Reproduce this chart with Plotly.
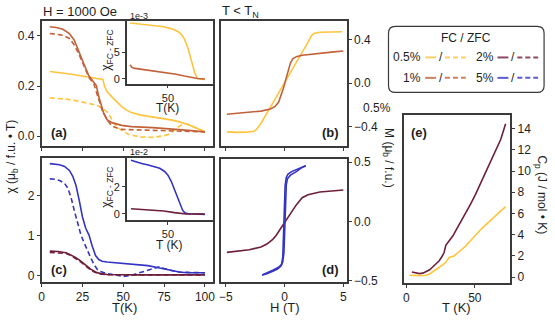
import plotly.graph_objects as go

# ---- colours ---------------------------------------------------------------
C05 = "#FFC43D"   # 0.5 %
C1 = "#C1613A"    # 1 %
C2 = "#6D1F3C"    # 2 %
C5 = "#3434C4"    # 5 %
FRAME = "#3a3a3a"
TXT = "#1e1e1e"
FONT = "Liberation Sans, Arial, sans-serif"

W, H = 555, 325

# ---- (a) chi(T), 0.5 % and 1 % --------------------------------------------
a_t_05_fc = [5, 10, 15, 20, 25, 30, 35, 37.5, 38.5, 40, 43, 46, 49, 52, 55, 60, 65, 70, 75, 80, 85, 90, 95, 100]
a_v_05_fc = [0.258, 0.255, 0.250, 0.245, 0.239, 0.233, 0.228, 0.226, 0.200, 0.178, 0.157, 0.136, 0.118,
             0.104, 0.094, 0.085, 0.080, 0.075, 0.070, 0.064, 0.056, 0.046, 0.032, 0.018]
a_t_05_zfc = [5, 10, 15, 20, 25, 30, 35, 38, 41, 44, 48, 53, 60, 68, 75, 78, 82, 85, 88, 90, 95, 100]
a_v_05_zfc = [0.153, 0.151, 0.148, 0.143, 0.137, 0.129, 0.120, 0.108, 0.092, 0.053, 0.027, 0.008,
              -0.003, -0.005, 0.002, 0.008, 0.027, 0.043, 0.050, 0.046, 0.032, 0.018]
a_t_1_fc = [5, 9, 13, 17, 20, 23, 26, 29, 32, 33.5, 35, 36.8, 38, 40, 43, 49, 55, 68, 78, 88, 100]
a_v_1_fc = [0.437, 0.434, 0.427, 0.410, 0.383, 0.338, 0.286, 0.240, 0.215, 0.202, 0.157, 0.118, 0.092,
            0.066, 0.054, 0.043, 0.038, 0.034, 0.030, 0.024, 0.017]
a_t_1_zfc = [5, 9, 13, 17, 20, 23, 26, 29, 32, 35, 37, 40, 43, 49, 68, 88, 100]
a_v_1_zfc = [0.410, 0.408, 0.403, 0.390, 0.364, 0.325, 0.280, 0.234, 0.208, 0.144, 0.105, 0.066,
             0.040, 0.027, 0.024, 0.020, 0.017]

# inset (a): chi_FC - chi_ZFC, units of 1e-3
ia_t_05 = [4, 15, 30, 45, 55, 62, 66, 70, 74, 77, 80, 83, 86, 90, 95]
ia_v_05 = [10.6, 10.4, 10.2, 9.9, 9.5, 9.0, 8.5, 7.6, 6.0, 4.2, 2.5, 1.0, 0.1, -0.05, -0.1]
ia_t_1 = [4, 6, 10, 20, 30, 40, 50, 60, 70, 80, 86, 95]
ia_v_1 = [2.7, 2.2, 2.0, 1.8, 1.6, 1.4, 1.2, 0.9, 0.55, 0.25, 0.1, 0.0]

# ---- (b) M(H), 0.5 % and 1 % ----------------------------------------------
b_h_05 = [-4.9, -4, -3, -2.6, -2.4, -2, -1, 0, 1, 2, 2.3, 2.5, 3, 4, 4.9]
b_m_05 = [-0.45, -0.455, -0.45, -0.445, -0.43, -0.37, -0.185, 0.0, 0.19, 0.38, 0.44, 0.46, 0.47, 0.47, 0.475]
b_h_1 = [-4.9, -4, -3, -2, -1.2, -0.8, -0.5, -0.3, -0.1, 0.1, 0.3, 0.5, 0.7, 1.0, 1.5, 2, 3, 4, 5]
b_m_1 = [-0.288, -0.28, -0.27, -0.258, -0.238, -0.215, -0.175, -0.12, -0.05, 0.03, 0.11, 0.185,
         0.225, 0.245, 0.258, 0.265, 0.276, 0.287, 0.297]

# ---- (c) chi(T), 2 % and 5 % ----------------------------------------------
c_t_5_fc = [5, 8, 11, 14, 17, 19, 21, 23, 25, 27, 29, 31, 33, 35, 37, 40, 45, 50, 55, 60, 65, 70,
            75, 80, 85, 90, 95, 100]
c_v_5_fc = [2.79, 2.78, 2.76, 2.72, 2.62, 2.48, 2.25, 1.88, 1.46, 1.18, 1.01, 0.73, 0.50, 0.40, 0.36,
            0.34, 0.32, 0.31, 0.29, 0.27, 0.25, 0.21, 0.17, 0.12, 0.085, 0.075, 0.07, 0.07]
c_t_5_zfc = [5, 8, 11, 14, 16, 18, 20, 22, 24, 26, 28, 30, 32, 34, 36, 40, 45, 50, 55, 60, 65, 70,
             72, 75, 80, 85, 90, 95, 100]
c_v_5_zfc = [2.41, 2.40, 2.37, 2.30, 2.18, 1.95, 1.62, 1.30, 1.02, 0.82, 0.62, 0.45, 0.28, 0.16, 0.10,
             0.05, 0.02, -0.02, 0.01, 0.07, 0.14, 0.20, 0.22, 0.18, 0.12, 0.085, 0.075, 0.07, 0.07]
c_t_2 = [5, 10, 15, 18, 21, 24, 27, 30, 33, 36, 40, 50, 60, 70, 80, 90, 100]
c_v_2_fc = [0.61, 0.60, 0.57, 0.52, 0.45, 0.36, 0.26, 0.16, 0.09, 0.05, 0.03, 0.02, 0.02, 0.02, 0.02, 0.02, 0.02]
c_v_2_zfc = [0.58, 0.57, 0.55, 0.50, 0.43, 0.34, 0.24, 0.14, 0.075, 0.04, 0.025, 0.015, 0.015, 0.015,
             0.015, 0.015, 0.015]

# inset (c): chi_FC - chi_ZFC, units of 1e-2
ic_t_5 = [5, 10, 18, 26, 34, 40, 46, 50, 54, 58, 62, 65, 68, 71, 75, 85, 95]
ic_v_5 = [3.95, 3.85, 3.71, 3.60, 3.48, 3.35, 3.12, 2.85, 2.40, 1.80, 1.20, 0.70, 0.26, 0.06, 0.02, 0.0, -0.03]
ic_t_2 = [5, 15, 30, 45, 58, 65, 72, 85, 95]
ic_v_2 = [0.38, 0.35, 0.30, 0.22, 0.10, 0.05, 0.0, 0.0, -0.01]

# ---- (d) M(H), 2 % and 5 % ------------------------------------------------
d_h_2 = [-4.9, -4, -3, -2, -1.5, -1, -0.7, -0.4, -0.2, 0, 0.2, 0.4, 0.7, 1, 1.5, 2, 3, 4, 5]
d_m_2 = [-0.26, -0.25, -0.238, -0.215, -0.19, -0.15, -0.115, -0.07, -0.04, -0.01, 0.025, 0.06,
         0.10, 0.14, 0.20, 0.225, 0.248, 0.258, 0.265]
d_h_5_down = [1.8, 1.4, 1.0, 0.6, 0.3, 0.15, 0.05, -0.05, -0.1, -0.15, -0.25, -0.5, -1.0, -1.5, -1.9]
d_m_5_down = [0.47, 0.455, 0.44, 0.42, 0.40, 0.37, 0.30, 0.0, -0.2, -0.3, -0.36, -0.385, -0.41, -0.43, -0.45]
d_h_5_up = [-1.9, -1.5, -1.0, -0.6, -0.3, -0.15, -0.05, 0.05, 0.1, 0.15, 0.25, 0.5, 1.0, 1.4, 1.8]
d_m_5_up = [-0.45, -0.44, -0.42, -0.40, -0.375, -0.34, -0.26, 0.05, 0.22, 0.31, 0.36, 0.39, 0.42, 0.45, 0.47]

# ---- (e) Cp(T) -------------------------------------------------------------
e_t_2 = [4, 7, 9.5, 12, 14, 17, 19, 22, 24, 26, 27.5, 28.8, 30, 31.2, 34, 37, 40, 43, 47, 50.5,
         54, 57.8, 61, 65, 69, 72.5]
e_c_2 = [0.49, 0.38, 0.34, 0.38, 0.49, 0.70, 0.94, 1.30, 1.55, 1.95, 2.30, 3.00, 3.20, 3.38, 3.90,
         4.60, 5.25, 5.97, 6.90, 7.80, 8.80, 9.79, 10.70, 11.77, 13.00, 14.46]
e_t_05 = [2.2, 6, 10, 14.3, 17, 19, 21.5, 24, 26.5, 28.8, 30, 31.2, 33, 34.8, 38, 43.3, 47, 50.5,
          54, 57.8, 61, 65, 69, 72.6]
e_c_05 = [0.18, 0.15, 0.15, 0.18, 0.30, 0.49, 0.70, 0.94, 1.15, 1.40, 1.60, 1.86, 1.93, 2.00, 2.35,
          2.93, 3.45, 4.00, 4.45, 4.90, 5.30, 5.83, 6.25, 6.65]


def px(x):
    return x / W


def py(y):
    return 1 - y / H


def axis(**kw):
    base = dict(showline=True, mirror=True, linecolor=FRAME, linewidth=1.5,
                ticks="outside", ticklen=3, tickwidth=1, tickcolor=FRAME,
                showgrid=False, zeroline=False,
                tickfont=dict(size=12, color=TXT, family=FONT))
    base.update(kw)
    return base


fig = go.Figure()


def line(x, y, color, ax, dash="solid", width=1.6):
    fig.add_trace(go.Scatter(
        x=x, y=y, mode="lines", xaxis="x" + ax, yaxis="y" + ax,
        line=dict(color=color, width=width, dash=dash),
        showlegend=False, hoverinfo="skip",
    ))


DASH = "5px,3px"

# (a)
line(a_t_05_fc, a_v_05_fc, C05, "")
line(a_t_05_zfc, a_v_05_zfc, C05, "", DASH)
line(a_t_1_fc, a_v_1_fc, C1, "")
line(a_t_1_zfc, a_v_1_zfc, C1, "", DASH)
line(ia_t_05, ia_v_05, C05, "2")
line(ia_t_1, ia_v_1, C1, "2")
# (b)
line(b_h_05, b_m_05, C05, "3")
line(b_h_1, b_m_1, C1, "3")
# (c)
line(c_t_5_fc, c_v_5_fc, C5, "4")
line(c_t_5_zfc, c_v_5_zfc, C5, "4", DASH)
line(c_t_2, c_v_2_fc, C2, "4")
line(c_t_2, c_v_2_zfc, C2, "4", DASH)
line(ic_t_5, ic_v_5, C5, "5")
line(ic_t_2, ic_v_2, C2, "5")
# (d)
line(d_h_2, d_m_2, C2, "6")
line(d_h_5_down, d_m_5_down, C5, "6")
line(d_h_5_up, d_m_5_up, C5, "6")
# (e)
line(e_t_2, e_c_2, C2, "7")
line(e_t_05, e_c_05, C05, "7")

A_X = [px(39), px(212)]
B_X = [px(220), px(347)]
INS_X = [px(125), px(212)]
TOP_Y = [py(147), py(19)]
INS_A_Y = [py(83), py(19)]
BOT_Y = [py(287), py(159)]
INS_C_Y = [py(223), py(159)]
D_Y = [py(287), py(160)]
E_X = [px(405), px(512)]
E_Y = [py(288), py(115)]

small = dict(size=11, color=TXT, family=FONT)
t_ticks = [0, 25, 50, 75, 100]
h_ticks = [-5, 0, 5]

layout = dict(
    width=W, height=H, autosize=False,
    margin=dict(l=0, r=0, t=0, b=0),
    paper_bgcolor="white", plot_bgcolor="white",
    font=dict(family=FONT, color=TXT, size=12),
    # (a)
    xaxis=axis(domain=A_X, anchor="y", range=[0, 105], tickvals=t_ticks, showticklabels=False),
    yaxis=axis(domain=TOP_Y, anchor="x", range=[-0.039, 0.458], tickvals=[0, 0.2, 0.4],
               tickformat=".1f"),
    xaxis2=axis(domain=INS_X, anchor="y2", range=[0, 105], tickvals=[50], tickfont=small),
    yaxis2=axis(domain=INS_A_Y, anchor="x2", range=[-0.9, 10.9], tickvals=[0, 5], tickfont=small),
    # (b)
    xaxis3=axis(domain=B_X, anchor="y3", range=[-5.4, 5.3], tickvals=h_ticks, showticklabels=False),
    yaxis3=axis(domain=TOP_Y, anchor="x3", side="right", range=[-0.58, 0.57],
                tickvals=[-0.4, 0, 0.4], tickformat=".1f"),
    # (c)
    xaxis4=axis(domain=A_X, anchor="y4", range=[0, 105], tickvals=t_ticks),
    yaxis4=axis(domain=BOT_Y, anchor="x4", range=[-0.16, 2.94], tickvals=[0, 1, 2]),
    xaxis5=axis(domain=INS_X, anchor="y5", range=[0, 105], tickvals=[50], tickfont=small),
    yaxis5=axis(domain=INS_C_Y, anchor="x5", range=[-0.43, 4.14], tickvals=[0, 2], tickfont=small),
    # (d)
    xaxis6=axis(domain=B_X, anchor="y6", range=[-5.4, 5.3], tickvals=h_ticks),
    yaxis6=axis(domain=D_Y, anchor="x6", side="right", range=[-0.51, 0.53],
                tickvals=[-0.5, 0, 0.5], tickformat=".1f"),
    # (e)
    xaxis7=axis(domain=E_X, anchor="y7", range=[-1.5, 76], tickvals=[0, 50]),
    yaxis7=axis(domain=E_Y, anchor="x7", side="right", range=[-0.55, 15.3],
                tickvals=[0, 2, 4, 6, 8, 10, 12, 14]),
)
fig.update_layout(**layout)


def note(text, x, y, size=12, xanchor="center", yanchor="middle", angle=0, bold=False):
    if bold:
        text = "<b>" + text + "</b>"
    fig.add_annotation(text=text, x=px(x), y=py(y), xref="paper", yref="paper",
                       showarrow=False, xanchor=xanchor, yanchor=yanchor, textangle=angle,
                       borderpad=0, font=dict(size=size, color=TXT, family=FONT))


note("H = 1000 Oe", 39, 9, 13, xanchor="left")
note("T &lt; T<sub>N</sub>", 220, 9, 13, xanchor="left")
note("1e-3", 127, 13, 9, xanchor="left")
note("1e-2", 127, 153, 9, xanchor="left")
note("(a)", 47, 133, 13, xanchor="left", bold=True)
note("(b)", 340, 133, 13, xanchor="right", bold=True)
note("(c)", 47, 274, 13, xanchor="left", bold=True)
note("(d)", 340, 274, 13, xanchor="right", bold=True)
note("(e)", 411, 133, 13, xanchor="left", bold=True)
note("χ (μ<sub>b</sub> / f.u. • T)", 9, 158, 12, angle=-90)
note("χ<sub>FC - ZFC</sub>", 105, 49, 12, angle=-90)
note("χ<sub>FC - ZFC</sub>", 105, 190, 12, angle=-90)
note("T(K)", 166, 108, 12)
note("T (K)", 168, 249, 12)
note("T(K)", 123, 313, 13)
note("H (T)", 285, 313, 13)
note("M (μ<sub>b</sub> / f.u.)", 389, 160, 12, angle=90)
note("0.5%", 377, 108, 12)
note("C<sub>p</sub> (J / mol • K)", 543, 197, 12, angle=90)
note("T (K)", 458, 313, 13)

# ---- legend box ------------------------------------------------------------
x0, x1, y0, y1, r = 389, 546, 24, 92, 7
path = (f"M {px(x0 + r)} {py(y0)} L {px(x1 - r)} {py(y0)} Q {px(x1)} {py(y0)} {px(x1)} {py(y0 + r)} "
        f"L {px(x1)} {py(y1 - r)} Q {px(x1)} {py(y1)} {px(x1 - r)} {py(y1)} "
        f"L {px(x0 + r)} {py(y1)} Q {px(x0)} {py(y1)} {px(x0)} {py(y1 - r)} "
        f"L {px(x0)} {py(y0 + r)} Q {px(x0)} {py(y0)} {px(x0 + r)} {py(y0)} Z")
fig.add_shape(type="path", path=path, xref="paper", yref="paper",
              line=dict(color=FRAME, width=1.2), fillcolor="white", layer="below")
note("FC / ZFC", 467, 36, 12)


def legend_entry(label, color, xr, y):
    note(label, xr, y, 12, xanchor="right")
    fig.add_shape(type="line", xref="paper", yref="paper", x0=px(xr + 3), x1=px(xr + 14),
                  y0=py(y), y1=py(y), line=dict(color=color, width=2), opacity=0.8)
    note("/", xr + 19, y, 12)
    fig.add_shape(type="line", xref="paper", yref="paper", x0=px(xr + 23), x1=px(xr + 44),
                  y0=py(y), y1=py(y), line=dict(color=color, width=2, dash="5px,3px"), opacity=0.8)


legend_entry("0.5%", C05, 423, 56)
legend_entry("1%", C1, 423, 77)
legend_entry("2%", C2, 496, 56)
legend_entry("5%", C5, 496, 77)

# the page body has a default 8px margin; remove it so the figure sits at 0,0
fig.write_html("out.html", config={"displayModeBar": False},
               post_script="document.body.style.margin='0';")
